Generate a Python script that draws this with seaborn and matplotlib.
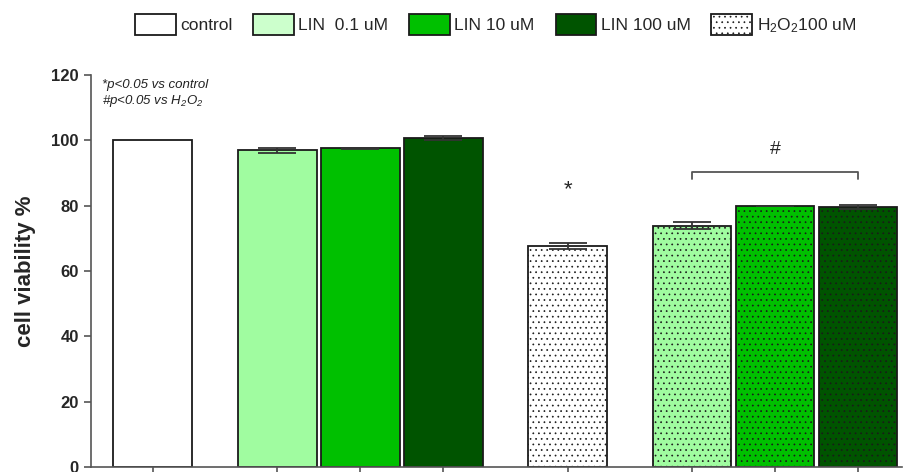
import pandas as pd
import matplotlib
matplotlib.use("Agg")
import matplotlib.pyplot as plt
import matplotlib.patches as mpatches
import seaborn as sns

# bar values (mean, error)
groups = ["control", "LIN 0.1 uM", "LIN 10 uM", "LIN 100 uM", "H2O2 100 uM",
          "LIN 0.1 uM + H2O2", "LIN 10 uM + H2O2", "LIN 100 uM + H2O2"]
viability = [100.0, 96.9, 97.6, 100.6, 67.7, 73.9, 79.9, 79.6]
error = [0.0, 0.8, 0.1, 0.6, 0.9, 1.0, 0.15, 0.5]
h2o2 = [False, False, False, False, True, True, True, True]

legend_labels = ["control", "LIN  0.1 uM", "LIN 10 uM", "LIN 100 uM",
                 r"H$_\mathregular{2}$O$_\mathregular{2}$100 uM"]
yticks = [0, 20, 40, 60, 80, 100, 120]

# layout
xpos = [0, 1.5, 2.5, 3.5, 5, 6.5, 7.5, 8.5]
bar_colors = ["#ffffff", "#a0fca0", "#00c000", "#005400",
              "#ffffff", "#a0fca0", "#00c000", "#005400"]
legend_colors = ["#ffffff", "#ccffcc", "#00c000", "#005400", "#ffffff"]

sns.set_style("ticks")
plt.rcParams["font.family"] = ["Liberation Sans", "DejaVu Sans"]
plt.rcParams["mathtext.fontset"] = "custom"
plt.rcParams["mathtext.rm"] = "Liberation Sans"
plt.rcParams["mathtext.it"] = "Liberation Sans:italic"
plt.rcParams["hatch.linewidth"] = 0.5

df = pd.DataFrame({"pos": xpos, "viability": viability, "group": groups})

fig = plt.figure(figsize=(9.05, 4.72), dpi=100)
ax = fig.add_axes([90.7 / 905, 5 / 472, (902 - 90.7) / 905, 392 / 472])

sns.barplot(data=df, x="pos", y="viability", hue="group", palette=bar_colors,
            hue_order=groups, native_scale=True, dodge=False, width=0.95,
            edgecolor="#1a1a1a", linewidth=1.3, errorbar=None, legend=False,
            saturation=1, ax=ax)

for p in ax.patches:
    cx = p.get_x() + p.get_width() / 2
    i = min(range(len(xpos)), key=lambda k: abs(xpos[k] - cx))
    if h2o2[i]:
        p.set_hatch("...")

ex = [x for x, e in zip(xpos, error) if e > 0]
ey = [v for v, e in zip(viability, error) if e > 0]
ee = [e for e in error if e > 0]
ax.errorbar(ex, ey, yerr=ee, fmt="none", ecolor="#333333", elinewidth=1.3,
            capsize=14, capthick=1.3, zorder=5)

ax.set_xlim(-0.747, 9.03)
ax.set_ylim(0, 120)
ax.set_xticks(xpos)
ax.set_xticklabels([])
ax.set_yticks(yticks)
ax.set_yticklabels([str(t) for t in yticks], fontsize=12, fontweight="bold")
ax.set_xlabel("")
ax.set_ylabel("cell viability %", fontsize=16, fontweight="bold")
ax.yaxis.set_label_coords(-0.068, 0.5)
ax.tick_params(axis="both", direction="out", length=5, width=1.2, color="#555555")
for s in ["top", "right"]:
    ax.spines[s].set_visible(False)
for s in ["left", "bottom"]:
    ax.spines[s].set_color("#555555")
    ax.spines[s].set_linewidth(1.2)

# significance notes
ax.text(-0.61, 116.0, "*p<0.05 vs control", fontsize=9.5, style="italic", color="#222222")
ax.text(-0.61, 111.0, r"#p<0.05 vs H$_\mathregular{2}$O$_\mathregular{2}$",
        fontsize=9.5, style="italic", color="#222222")
ax.text(5, 85.0, "*", fontsize=16, ha="center", va="center")
ax.text(7.5, 97.3, "#", fontsize=14, ha="center", va="center")
ax.plot([6.5, 6.5, 8.5, 8.5], [88.1, 90.4, 90.4, 88.1], color="#555555", lw=1.3)

handles = []
for lab, col, hatched in zip(legend_labels, legend_colors,
                             [False, False, False, False, True]):
    handles.append(mpatches.Patch(facecolor=col, edgecolor="#1a1a1a", linewidth=1.3,
                                  hatch="..." if hatched else None, label=lab))
fig.legend(handles=handles, loc="center left", bbox_to_anchor=(135 / 905, 1 - 24.5 / 472),
           ncol=5, frameon=False, fontsize=12.5, handlelength=2.35, handleheight=1.45,
           handletextpad=0.25, columnspacing=1.2, borderpad=0, borderaxespad=0)

fig.savefig("out.png", dpi=100)
